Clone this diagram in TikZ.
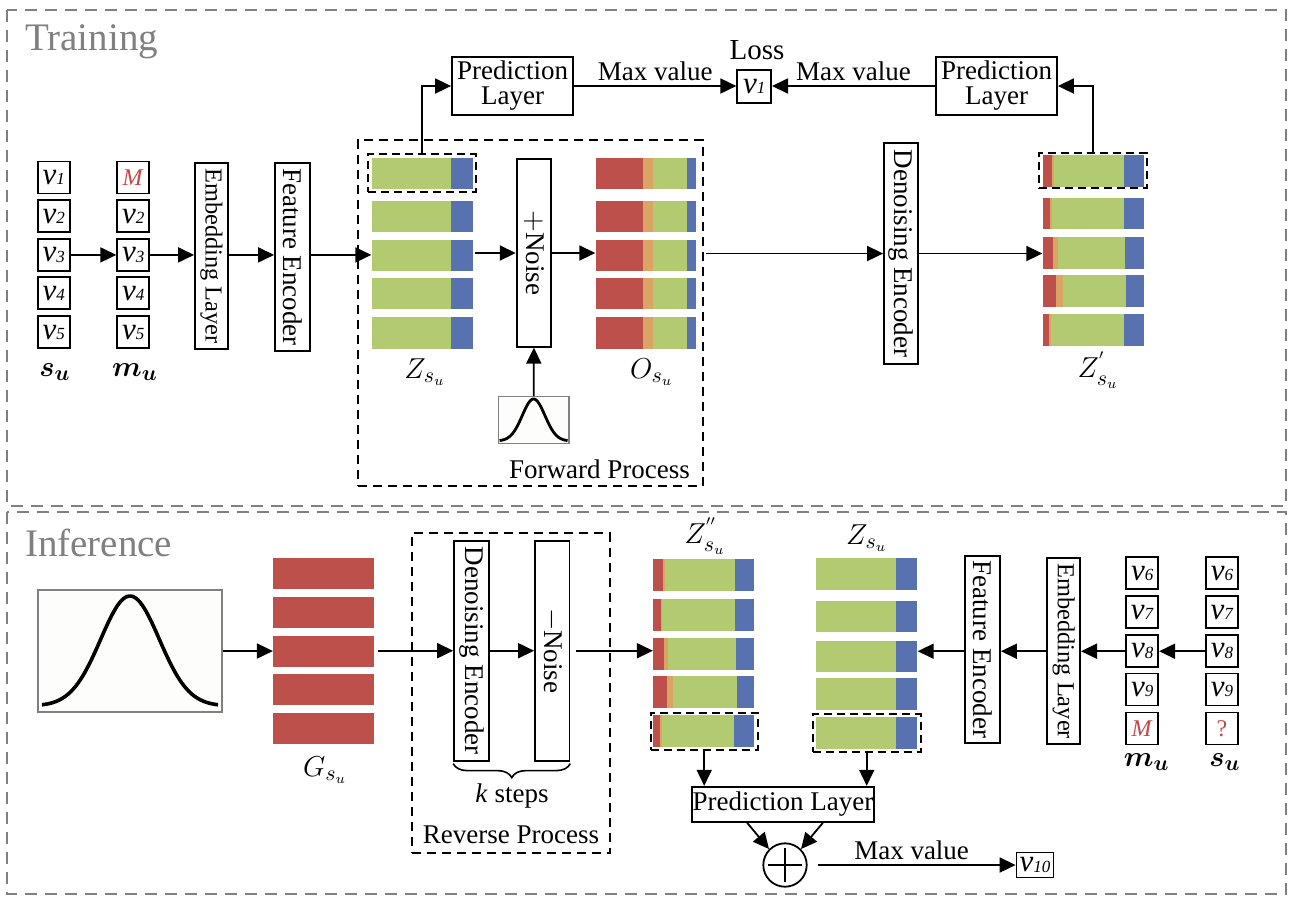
\documentclass[tikz,border=0pt]{standalone}
\usepackage{fontspec}
\setmainfont{Liberation Serif}
\usepackage{amsmath}
\usepackage{bm}
\usepackage{graphicx}
\usetikzlibrary{arrows.meta,positioning,fit,decorations.pathreplacing}

\definecolor{barred}{RGB}{190,80,75}
\definecolor{barorange}{RGB}{218,165,100}
\definecolor{bargreen}{RGB}{178,202,112}
\definecolor{barblue}{RGB}{88,113,175}
\definecolor{maskred}{RGB}{200,70,70}
\definecolor{framegray}{RGB}{128,128,128}
\definecolor{gaussbg}{RGB}{253,253,251}

\newcommand{\vitem}[1]{\textit{v}\raisebox{-0.3pt}{\fontsize{8.5}{8.5}\selectfont\textit{#1}}}
\newcommand{\masked}[1]{{\fontsize{12}{12}\selectfont\color{maskred}#1}}

\tikzset{
  box/.style={draw, line width=0.9pt, inner sep=1pt, align=center},
  vbox/.style={box, minimum width=17pt, minimum height=93pt, inner sep=0pt},
  item/.style={draw, line width=0.9pt, minimum width=16pt, minimum height=16pt, inner sep=0pt, font=\fontsize{15.5}{15.5}\selectfont},
  group/.style={inner sep=0pt},
  sel/.style={draw, line width=1pt, dash pattern=on 4pt off 2.5pt, inner sep=0pt},
  proc/.style={draw, line width=1.1pt, dash pattern=on 4.5pt off 3pt, inner sep=0pt},
  frame/.style={draw=framegray, line width=1.4pt, dash pattern=on 6pt off 4pt},
  gauss/.style={draw=gray, fill=gaussbg, line width=0.6pt, inner sep=0pt},
  arr/.style={-{Triangle[length=8pt,width=7.5pt]}, line width=0.9pt},
  lbl/.style={font=\fontsize{15}{15}\selectfont},
  title/.style={text=framegray, font=\fontsize{19.5}{20}\selectfont, anchor=west},
}

\begin{document}
\begin{tikzpicture}[x=0.5pt, y=-0.5pt, font=\fontsize{13.5}{15}\selectfont]
	\useasboundingbox (0,0) rectangle (1294,902);
	\draw[frame] (7,10) rectangle (1286,506);
	\draw[frame] (7,512) rectangle (1286,894);
	\node[title] (train) at (18,42) {Training};
	\node[title] (infer) at (18,543) {Inference};

	% training: input sequence and mask
	\foreach \i/\y in {1/177.5,2/216.2,3/254.9,4/293.3,5/332.3}{
		\node[item] (s\i) at (53.7,\y) {\vitem{\i}};
	}
	\node[item] (m1) at (133.2,177.5) {\masked{\textit{M}}};
	\foreach \i/\y in {2/216.2,3/254.9,4/293.3,5/332.3}{
		\node[item] (m\i) at (133.2,\y) {\vitem{\i}};
	}
	\node[lbl] (sulbl) at (55,372) {$\bm{s_u}$};
	\node[lbl] (mulbl) at (135,372) {$\bm{m_u}$};
	\node[vbox, minimum width=16.5pt, minimum height=93.2pt, font=\fontsize{12.2}{13}\selectfont] (emb) at (211.5,255.9) {\rotatebox{-90}{Embedding Layer}};
	\node[vbox, minimum width=17.5pt, minimum height=93.9pt] (fenc) at (292.5,256.9) {\rotatebox{-90}{Feature Encoder}};

	% training: forward process
	\foreach \t in {157.7,200.7,240,277.7,317.3}{
		\fill[bargreen] (371.7,\t) rectangle (451,\t+31.4);
		\fill[barblue] (451,\t) rectangle (472.7,\t+31.4);
	}
	\node[group, fit={(371.7,157.7) (472.7,348.7)}] (Zbars) {};
	\node[sel, fit={(368,154.3) (475.7,192)}] (Zsel) {};
	\node[lbl] (Zlbl) at (425,372) {$Z_{s_u}$};
	\node[vbox, minimum width=17.2pt, minimum height=93.7pt] (addnoise) at (533.9,253) {\rotatebox{-90}{$+$Noise}};
	\foreach \t in {157.7,200.7,240,277.7,317.3}{
		\fill[barred] (595.7,\t) rectangle (643.3,\t+31.4);
		\fill[barorange] (643.3,\t) rectangle (653.3,\t+31.4);
		\fill[bargreen] (653.3,\t) rectangle (687.3,\t+31.4);
		\fill[barblue] (687.3,\t) rectangle (696,\t+31.4);
	}
	\node[group, fit={(595.7,157.7) (696,348.7)}] (Obars) {};
	\node[lbl] (Olbl) at (651.7,372) {$O_{s_u}$};
	\node[gauss, fit={(498.3,396.7) (569,443.3)}] (gsmall) {};
	\draw[line width=1.4pt] plot[domain=-1:1, samples=60] ({533.6+34*\x}, {441-42*exp(-4.5*\x*\x)});
	\node[proc, fit={(358,140) (702.7,486)}] (fwd) {};
	\node[anchor=east] (fwdlbl) at (697,469) {Forward Process};

	% training: denoising side
	\node[vbox, minimum height=110.5pt] (denc) at (901,253.5) {\rotatebox{-90}{Denoising Encoder}};
	\foreach \t/\r/\o/\g in {155/1051.7/1054/1124, 197.7/1050/1052.3/1124, 237.3/1053.3/1057.7/1125, 275/1056/1062.7/1126, 314/1049/1050.7/1124}{
		\fill[barred] (1042.7,\t) rectangle (\r,\t+31.5);
		\fill[barorange] (\r,\t) rectangle (\o,\t+31.5);
		\fill[bargreen] (\o,\t) rectangle (\g,\t+31.5);
		\fill[barblue] (\g,\t) rectangle (1144,\t+31.5);
	}
	\node[group, fit={(1042.7,155) (1144,345.5)}] (Zpbars) {};
	\node[sel, fit={(1039,152.7) (1146.7,188.3)}] (Zpsel) {};
	\node[lbl] (Zplbl) at (1098,370) {$Z^{'}_{s_u}$};

	% training: loss
	\node[box, minimum width=60.5pt, minimum height=29pt, font=\fontsize{13.5}{12.5}\selectfont] (predL) at (512.5,86) {Prediction\\Layer};
	\node[box, minimum width=60.5pt, minimum height=29pt, font=\fontsize{13.5}{12.5}\selectfont] (predR) at (996.5,86) {Prediction\\Layer};
	\node[item, minimum width=16.9pt, minimum height=16.4pt] (vloss) at (754.2,86.4) {\vitem{1}};
	\node[font=\fontsize{14.5}{15}\selectfont] (loss) at (757,50) {Loss};

	\draw[arr] (s3.east) -- (m3.west);
	\draw[arr] (m3.east) -- (m3.east -| emb.west);
	\draw[arr] (emb.east |- m3) -- (m3 -| fenc.west);
	\draw[arr] (fenc.east |- m3) -- (m3 -| Zbars.west);
	\draw[arr, shorten <=1pt] (Zbars.east |- addnoise.west) -- (addnoise.west);
	\draw[arr] (addnoise.east) -- (addnoise.east -| Obars.west);
	\draw[arr] (gsmall.north) -- (addnoise.south);
	\draw[arr, shorten <=5pt] (Obars.east |- denc.west) -- (denc.west);
	\draw[arr] (denc.east) -- (denc.east -| Zpbars.west);
	\draw[arr] (Zsel.north) |- (predL.west);
	\draw[arr] (Zpsel.north) |- (predR.east);
	\draw[arr] (predL.east) -- node[above=-1pt] {Max value} (predL.east -| vloss.west);
	\draw[arr] (predR.west) -- node[above=-1pt] {Max value} (predR.west -| vloss.east);

	% inference: reverse process
	\node[gauss, fit={(38,590) (222,712)}] (gbig) {};
	\draw[line width=1.8pt] plot[domain=-1:1, samples=80] ({130+88*\x}, {706-110*exp(-4.5*\x*\x)});
	\foreach \t in {558.3,597.3,636,674,713.3}{
		\fill[barred] (273.3,\t) rectangle (374,\t+31);
	}
	\node[group, fit={(273.3,558.3) (374,744.3)}] (Gbars) {};
	\node[lbl] (Glbl) at (325,770) {$G_{s_u}$};
	\node[vbox, minimum width=17.6pt, minimum height=110pt] (denc2) at (471.7,650.7) {\rotatebox{-90}{Denoising Encoder}};
	\node[vbox, minimum width=17.2pt, minimum height=110pt] (rnoise) at (552.2,650.7) {\rotatebox{-90}{$-$Noise}};
	\draw[decorate, decoration={brace, mirror, amplitude=7pt, raise=1pt}, line width=0.8pt] (denc2.south west) -- (rnoise.south east);
	\node (ksteps) at (512,796) {\textit{k} steps};
	\node[proc, fit={(411.7,533.3) (610,853.3)}] (rev) {};
	\node (revlbl) at (511,835) {Reverse Process};

	% inference: denoised and encoded sequences
	\foreach \t/\r/\o/\g in {559/663.3/665.3/735, 599/661/662.3/735, 638.3/664/668.3/736, 676/666.7/673.3/736.7, 715/660/661.7/734.3}{
		\fill[barred] (653.3,\t) rectangle (\r,\t+31.5);
		\fill[barorange] (\r,\t) rectangle (\o,\t+31.5);
		\fill[bargreen] (\o,\t) rectangle (\g,\t+31.5);
		\fill[barblue] (\g,\t) rectangle (754.3,\t+31.5);
	}
	\node[group, fit={(653.3,559) (754.3,746.7)}] (Zddbars) {};
	\node[sel, fit={(650.7,712.7) (757.7,750)}] (Zddsel) {};
	\node[lbl] (Zddlbl) at (705,536) {$Z^{''}_{s_u}$};
	\foreach \t in {558.3,600.7,640.7,678.3,717.3}{
		\fill[bargreen] (816,\t) rectangle (896,\t+31.7);
		\fill[barblue] (896,\t) rectangle (917.3,\t+31.7);
	}
	\node[group, fit={(816,558.3) (917.3,749)}] (Zibars) {};
	\node[sel, fit={(812.7,714.3) (920.7,751.7)}] (Zisel) {};
	\node[lbl] (Zilbl) at (866.7,538) {$Z_{s_u}$};
	\node[vbox, minimum width=17.5pt, minimum height=93.3pt] (fenc2) at (982.5,649.3) {\rotatebox{-90}{Feature Encoder}};
	\node[vbox, minimum width=16.4pt, minimum height=92.9pt, font=\fontsize{12.2}{13}\selectfont] (emb2) at (1063.7,651.2) {\rotatebox{-90}{Embedding Layer}};

	% inference: input sequence and mask
	\foreach \i/\n/\y in {1/6/573.3,2/7/612.2,3/8/651.2,4/9/689.5}{
		\node[item] (mi\i) at (1142.2,\y) {\vitem{\n}};
		\node[item] (si\i) at (1221.9,\y) {\vitem{\n}};
	}
	\node[item] (mi5) at (1142.2,728.5) {\masked{\textit{M}}};
	\node[item] (si5) at (1221.9,728.5) {\masked{?}};
	\node[lbl] (milbl) at (1146.7,762) {$\bm{m_u}$};
	\node[lbl] (silbl) at (1225,762) {$\bm{s_u}$};

	% inference: prediction
	\node[box, minimum width=91.3pt, minimum height=17.5pt, inner sep=0.5pt] (predB) at (783,804.2) {Prediction Layer};
	\node[draw, circle, line width=0.9pt, minimum size=21.7pt, inner sep=0pt] (sum) at (785,865) {};
	\draw[line width=0.9pt, shorten <=3pt, shorten >=3pt] (sum.north) -- (sum.south);
	\draw[line width=0.9pt, shorten <=3pt, shorten >=3pt] (sum.west) -- (sum.east);
	\node[item, minimum width=18.5pt, minimum height=12.5pt] (v10) at (1035,865) {\vitem{10}};

	\draw[arr] (gbig.east) -- (gbig.east -| Gbars.west);
	\draw[arr, shorten <=2pt] (Gbars.east |- denc2.west) -- (denc2.west);
	\draw[arr] (denc2.east) -- (rnoise.west);
	\draw[arr, shorten <=3pt] (rnoise.east) -- (rnoise.east -| Zddbars.west);
	\draw[arr] (si3.west) -- (mi3.east);
	\draw[arr] (mi3.west) -- (mi3.west -| emb2.east);
	\draw[arr] (emb2.west |- mi3) -- (mi3 -| fenc2.east);
	\draw[arr] (fenc2.west |- mi3) -- (mi3 -| Zibars.east);
	\draw[arr] (Zddsel.south) -- (Zddsel.south |- predB.north);
	\draw[arr] (Zisel.south) -- (Zisel.south |- predB.north);
	\draw[arr] ([xshift=-18pt]predB.south) -- (sum.135);
	\draw[arr] ([xshift=20pt]predB.south) -- (sum.45);
	\draw[arr, shorten <=5pt] (sum.east) -- node[above=-1pt] {Max value} (sum.east -| v10.west);
\end{tikzpicture}
\end{document}
